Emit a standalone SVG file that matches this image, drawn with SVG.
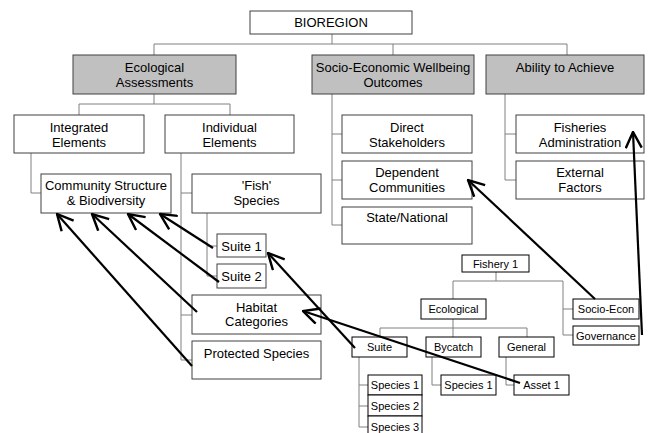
<svg xmlns="http://www.w3.org/2000/svg" width="655" height="433" viewBox="0 0 655 433">
<style>
.b{fill:#fff;stroke:#404040;stroke-width:1}
.g{fill:#c0c0c0;stroke:#404040;stroke-width:1}
.s{fill:#fff;stroke:#000;stroke-width:1}
.t{font-family:"Liberation Sans",Arial,sans-serif;font-size:13px;fill:#000;text-anchor:middle}
.u{font-family:"Liberation Sans",Arial,sans-serif;font-size:11px;fill:#000;text-anchor:middle}
.c{fill:none;stroke:#808080;stroke-width:1}
.a{fill:none;stroke:#000;stroke-width:2.2;marker-end:url(#ah)}
</style>
<defs>
<marker id="ah" viewBox="0 0 18 18" refX="17" refY="9" markerWidth="18" markerHeight="18" markerUnits="userSpaceOnUse" orient="auto">
<path d="M1,1 L17,9 L1,17" fill="none" stroke="#000" stroke-width="2.4"/>
</marker>
</defs>
<g id="connectors">
<path class="c" d="M332,34V44M154,44H567M154,44V55M393,44V55M567,44V55"/>
<path class="c" d="M154,94V104M79,104H230M79,104V115M230,104V115"/>
<path class="c" d="M31,153V193H41"/>
<path class="c" d="M181,153V360M181,193H192M181,315H192M181,360H192"/>
<path class="c" d="M207,213V276M207,246H217M207,276H217"/>
<path class="c" d="M332,94V225M332,134H342M332,180H342M332,225H342"/>
<path class="c" d="M505,94V180M505,134H516M505,180H516"/>
<path class="c" d="M496,272V281M453,281H563M453,281V299M563,281V335M563,309H573M563,335H573"/>
<path class="c" d="M453,319V328M380,328H527M380,328V337M453,328V337M527,328V337"/>
<path class="c" d="M359,357V427M359,385H368M359,406H368M359,427H368"/>
<path class="c" d="M432,357V385H441"/>
<path class="c" d="M506,357V385H514"/>
</g>
<g id="bioregion"><rect class="b" x="250" y="11" width="162" height="23"/><text class="t" x="331" y="27">BIOREGION</text></g>
<g id="eco-assess"><rect class="g" x="73" y="55" width="163" height="39"/><text class="t" x="154.5" y="71.5">Ecological</text><text class="t" x="154.5" y="86.5">Assessments</text></g>
<g id="socio-outcomes"><rect class="g" x="312" y="55" width="162" height="39"/><text class="t" x="393" y="71.5">Socio-Economic Wellbeing</text><text class="t" x="393" y="86.5">Outcomes</text></g>
<g id="ability"><rect class="g" x="486" y="55" width="158" height="39"/><text class="t" x="565" y="71.5">Ability to Achieve</text></g>
<g id="integrated"><rect class="b" x="14" y="115" width="130" height="38"/><text class="t" x="79" y="131.5">Integrated</text><text class="t" x="79" y="146.5">Elements</text></g>
<g id="individual"><rect class="b" x="165" y="115" width="129" height="38"/><text class="t" x="229.5" y="131.5">Individual</text><text class="t" x="229.5" y="146.5">Elements</text></g>
<g id="community"><rect class="b" x="41" y="174" width="130" height="39"/><text class="t" x="106" y="189.5">Community Structure</text><text class="t" x="106" y="204.5">&amp; Biodiversity</text></g>
<g id="fish"><rect class="b" x="192" y="174" width="129" height="39"/><text class="t" x="256.5" y="189.5">'Fish'</text><text class="t" x="256.5" y="204.5">Species</text></g>
<g id="suite1"><rect class="b" x="217" y="234" width="49" height="23"/><text class="t" x="241.5" y="250.5">Suite 1</text></g>
<g id="suite2"><rect class="b" x="217" y="264" width="49" height="24"/><text class="t" x="241.5" y="280.5">Suite 2</text></g>
<g id="habitat"><rect class="b" x="192" y="295" width="129" height="39"/><text class="t" x="256.5" y="311.5">Habitat</text><text class="t" x="256.5" y="326">Categories</text></g>
<g id="protected"><rect class="b" x="192" y="341" width="129" height="38"/><text class="t" x="256.5" y="357.5">Protected Species</text></g>
<g id="direct"><rect class="b" x="342" y="115" width="130" height="38"/><text class="t" x="407" y="131.5">Direct</text><text class="t" x="407" y="146.5">Stakeholders</text></g>
<g id="dependent"><rect class="b" x="342" y="161" width="130" height="38"/><text class="t" x="407" y="176.5">Dependent</text><text class="t" x="407" y="191.5">Communities</text></g>
<g id="state"><rect class="b" x="342" y="207" width="130" height="37"/><text class="t" x="407" y="221.5">State/National</text></g>
<g id="fisheries-admin"><rect class="b" x="516" y="115" width="128" height="38"/><text class="t" x="580" y="131.5">Fisheries</text><text class="t" x="580" y="146.5">Administration</text></g>
<g id="external"><rect class="b" x="516" y="161" width="128" height="38"/><text class="t" x="580" y="176.5">External</text><text class="t" x="580" y="191.5">Factors</text></g>
<g id="fishery1"><rect class="s" x="462" y="255" width="67" height="17"/><text class="u" x="495.5" y="267.5">Fishery 1</text></g>
<g id="ecological"><rect class="s" x="421" y="299" width="65" height="20"/><text class="u" x="453.5" y="313">Ecological</text></g>
<g id="socio-econ"><rect class="s" x="573" y="299" width="66" height="20"/><text class="u" x="606" y="313">Socio-Econ</text></g>
<g id="governance"><rect class="s" x="573" y="326" width="66" height="19"/><text class="u" x="606" y="339.5">Governance</text></g>
<g id="suite"><rect class="s" x="352" y="337" width="55" height="20"/><text class="u" x="379.5" y="351">Suite</text></g>
<g id="bycatch"><rect class="s" x="426" y="337" width="55" height="20"/><text class="u" x="453.5" y="351">Bycatch</text></g>
<g id="general"><rect class="s" x="499" y="337" width="55" height="20"/><text class="u" x="526.5" y="351">General</text></g>
<g id="species1"><rect class="s" x="368" y="375" width="54" height="20"/><text class="u" x="395" y="389">Species 1</text></g>
<g id="species2"><rect class="s" x="368" y="395" width="54" height="21"/><text class="u" x="395" y="409.5">Species 2</text></g>
<g id="species3"><rect class="s" x="368" y="416" width="54" height="21"/><text class="u" x="395" y="430.5">Species 3</text></g>
<g id="bycatch-species1"><rect class="s" x="441" y="375" width="55" height="20"/><text class="u" x="468.5" y="389">Species 1</text></g>
<g id="asset1"><rect class="s" x="514" y="375" width="55" height="20"/><text class="u" x="541.5" y="389">Asset 1</text></g>
<g id="arrows">
<line class="a" x1="213" y1="248" x2="160" y2="214"/>
<line class="a" x1="219" y1="282" x2="128" y2="214"/>
<line class="a" x1="197" y1="312" x2="92" y2="214"/>
<line class="a" x1="192" y1="366" x2="57" y2="214"/>
<line class="a" x1="355" y1="348" x2="268" y2="253"/>
<line class="a" x1="520" y1="383" x2="303" y2="311"/>
<line class="a" x1="595" y1="299" x2="468" y2="180"/>
<line class="a" x1="642" y1="335" x2="633" y2="132"/>
</g>
</svg>
